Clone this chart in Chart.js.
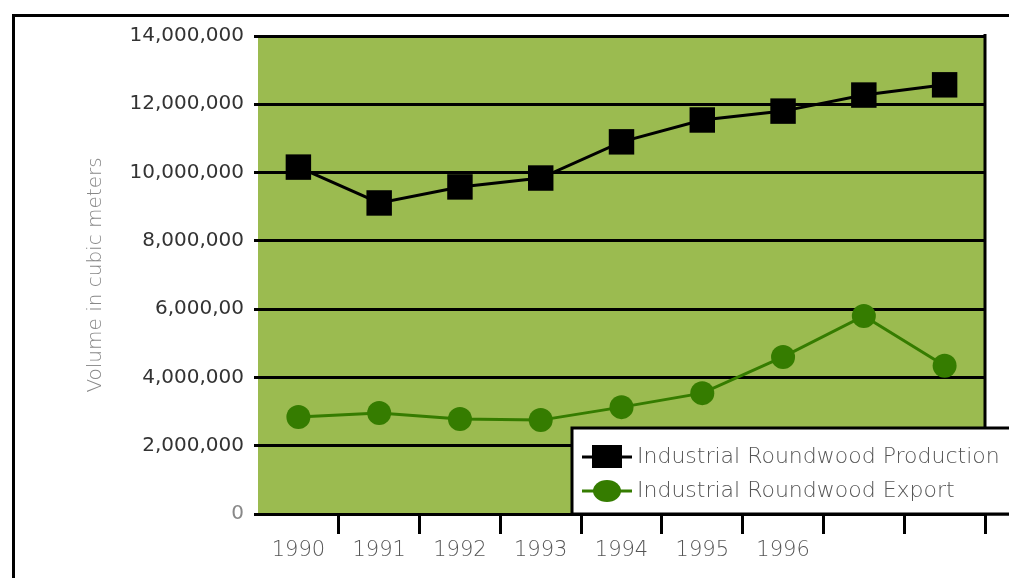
<!DOCTYPE html>
<html>
<head>
<meta charset="utf-8">
<script src="https://cdn.jsdelivr.net/npm/chart.js@4.4.1/dist/chart.umd.min.js"></script>
<style>
  html, body { margin: 0; padding: 0; background: #fff; overflow: hidden; }
  #frame { position: absolute; left: 12px; top: 14px; width: 1100px; height: 700px;
           border-left: 3px solid #000; border-top: 3px solid #000; }
  #chart { position: absolute; left: 0; top: 0; }
</style>
</head>
<body>
<div id="frame"></div>
<canvas id="chart" width="1009" height="578"></canvas>
<script>
const years = ["1990", "1991", "1992", "1993", "1994", "1995", "1996", "", ""];
const production = [10160000, 9110000, 9580000, 9840000, 10900000, 11540000, 11800000, 12270000, 12570000];
const exportVol = [2840000, 2960000, 2780000, 2750000, 3130000, 3540000, 4600000, 5800000, 4340000];
const yTickLabels = ["0", "2,000,000", "4,000,000", "6,000,00", "8,000,000", "10,000,000", "12,000,000", "14,000,000"];
const seriesNames = ["Industrial Roundwood Production", "Industrial Roundwood Export"];

const plotBg = "#9bbb50";
const green = "#357c00";
const family = "'DejaVu Sans', sans-serif";

const plotDecor = {
  id: "plotDecor",
  beforeDraw(chart) {
    const { ctx, chartArea: a } = chart;
    ctx.save();
    ctx.fillStyle = plotBg;
    ctx.fillRect(a.left, a.top, a.right - a.left, a.bottom - a.top);
    ctx.restore();
  },
  beforeDatasetsDraw(chart) {
    // right edge of the plot and the axis line running on to the page edge
    const { ctx, chartArea: a } = chart;
    ctx.save();
    ctx.strokeStyle = "#000";
    ctx.lineWidth = 3;
    ctx.beginPath();
    ctx.moveTo(a.right, a.top - 2);
    ctx.lineTo(a.right, a.bottom);
    ctx.moveTo(a.right, a.bottom);
    ctx.lineTo(chart.width, a.bottom);
    ctx.stroke();
    ctx.restore();
  },
  afterDraw(chart) {
    // legend box over the lower right corner of the plot
    const { ctx, chartArea: a } = chart;
    const left = a.left + 314;
    const top = a.bottom - 86;
    ctx.save();
    ctx.fillStyle = "#fff";
    ctx.fillRect(left, top, chart.width - left + 10, a.bottom - top);
    ctx.strokeStyle = "#000";
    ctx.lineWidth = 3;
    ctx.strokeRect(left, top, chart.width - left + 10, a.bottom - top);

    chart.data.datasets.forEach((ds, i) => {
      const y = top + 29 + i * 34;
      const cx = left + 35;
      ctx.strokeStyle = ds.borderColor;
      ctx.lineWidth = 3;
      ctx.beginPath();
      ctx.moveTo(left + 10, y);
      ctx.lineTo(left + 60, y);
      ctx.stroke();
      ctx.fillStyle = ds.backgroundColor;
      ctx.beginPath();
      if (ds.pointStyle === "rect") {
        ctx.rect(cx - 15, y - 12, 30, 23);
      } else {
        ctx.ellipse(cx, y, 14, 11, 0, 0, Math.PI * 2);
      }
      ctx.fill();

      ctx.fillStyle = "#555";
      ctx.font = "200 22px " + family;
      ctx.textBaseline = "middle";
      ctx.fillText(ds.label, left + 65, y);
    });
    ctx.restore();
  }
};

new Chart(document.getElementById("chart"), {
  type: "line",
  data: {
    labels: years,
    datasets: [
      {
        label: seriesNames[0],
        data: production,
        borderColor: "#000",
        backgroundColor: "#000",
        borderWidth: 3,
        pointStyle: "rect",
        pointRadius: 18,
        pointBorderWidth: 0,
      },
      {
        label: seriesNames[1],
        data: exportVol,
        borderColor: green,
        backgroundColor: green,
        borderWidth: 3,
        pointStyle: "circle",
        pointRadius: 12,
        pointBorderWidth: 0,
      },
    ],
  },
  options: {
    responsive: false,
    animation: false,
    devicePixelRatio: 1,
    layout: { padding: { top: 36, right: 24, bottom: 0, left: 0 } },
    plugins: { legend: { display: false }, tooltip: { enabled: false } },
    scales: {
      x: {
        offset: true,
        grid: {
          offset: true,
          drawOnChartArea: false,
          color: (c) => (c.index === 0 ? "rgba(0,0,0,0)" : "#000"),
          lineWidth: 3,
          tickLength: 20,
        },
        border: { display: false },
        ticks: {
          color: "#555",
          font: { family, size: 21, weight: 200 },
          padding: 4,
          maxRotation: 0,
          autoSkip: false,
        },
        afterFit: (s) => { s.height = 64; },
      },
      y: {
        min: 0,
        max: 14000000,
        ticks: {
          stepSize: 2000000,
          callback: (v, i) => yTickLabels[i],
          color: (c) => (c.index === 0 ? "#888" : "#333"),
          font: { family, size: 20 },
          padding: 10,
        },
        grid: { color: "#000", lineWidth: 3, tickLength: 4 },
        border: { display: false },
        title: {
          display: true,
          text: "Volume in cubic meters",
          color: "#888",
          font: { family, size: 20, weight: 200 },
          padding: { top: 84, bottom: 0 },
        },
        afterFit: (s) => { s.width = 258; },
      },
    },
  },
  plugins: [plotDecor],
});
</script>
</body>
</html>
